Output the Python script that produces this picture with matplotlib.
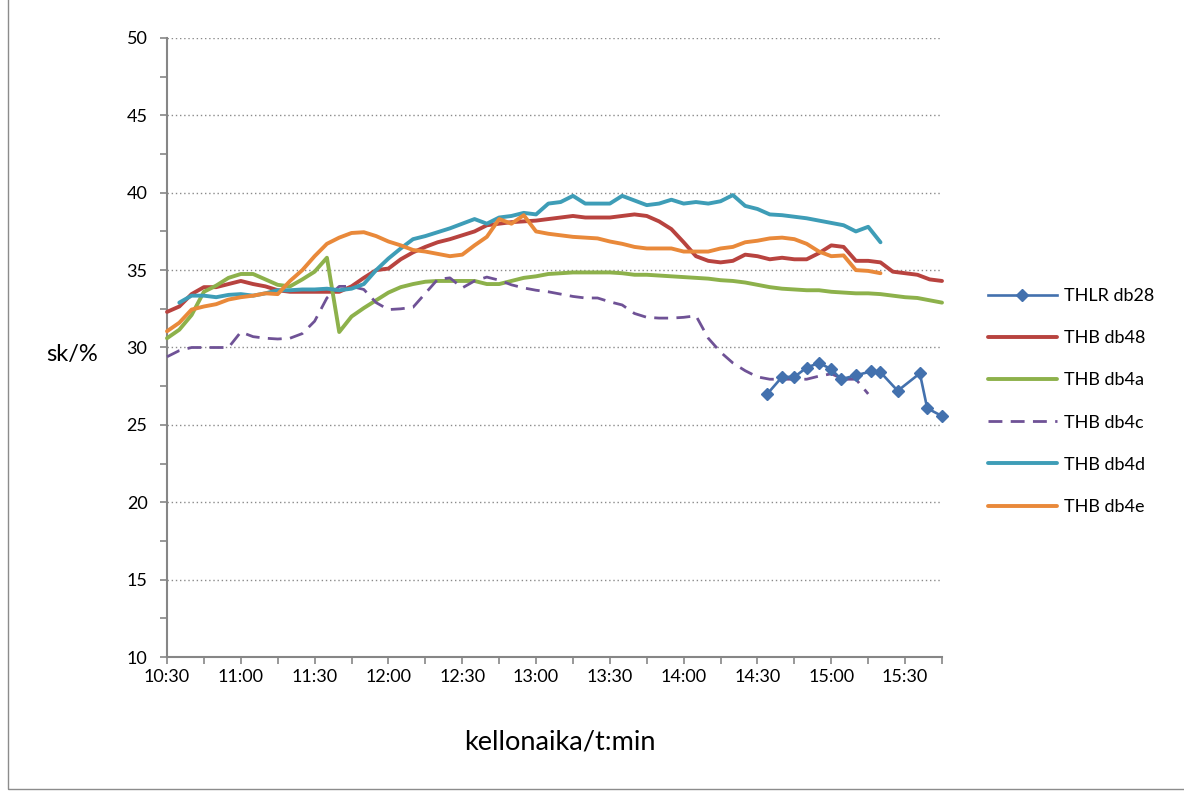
import numpy as np
import matplotlib
matplotlib.use("Agg")
import matplotlib.pyplot as plt
from matplotlib.patches import Rectangle

plt.rcParams['font.family'] = ['Lato', 'DejaVu Sans']

# Sampling clock of the THB loggers: minutes after 10:30, every 5 min
thb_minutes = np.arange(0, 320, 5)

nan = np.nan
db48 = [32.3, 32.65, 33.45, 33.9, 33.9, 34.1, 34.3, 34.1, 33.95, 33.7,
        33.6, 33.6, 33.6, 33.6, 33.6, 33.95, 34.5, 35.0, 35.1, 35.7,
        36.15, 36.5, 36.8, 37.0, 37.25, 37.5, 37.9, 38.0, 38.1, 38.15,
        38.2, 38.3, 38.4, 38.5, 38.4, 38.4, 38.4, 38.5, 38.6, 38.5,
        38.15, 37.65, 36.8, 35.9, 35.6, 35.5, 35.6, 36.0, 35.9, 35.7,
        35.8, 35.7, 35.7, 36.1, 36.6, 36.5, 35.6, 35.6, 35.5, 34.9,
        34.8, 34.7, 34.4, 34.3]
db4a = [30.6, 31.15, 32.1, 33.6, 34.0, 34.5, 34.75, 34.75, 34.4, 34.05,
        33.95, 34.4, 34.9, 35.8, 31.0, 32.0, 32.55, 33.05, 33.55, 33.9,
        34.1, 34.25, 34.3, 34.3, 34.3, 34.3, 34.1, 34.1, 34.3, 34.5,
        34.6, 34.75, 34.8, 34.85, 34.85, 34.85, 34.85, 34.8, 34.7, 34.7,
        34.65, 34.6, 34.55, 34.5, 34.45, 34.35, 34.3, 34.2, 34.05, 33.9,
        33.8, 33.75, 33.7, 33.7, 33.6, 33.55, 33.5, 33.5, 33.45, 33.35,
        33.25, 33.2, 33.05, 32.9]
db4c = [29.4, 29.8, 30.0, 30.0, 30.0, 30.0, 31.0, 30.7, 30.6, 30.55,
        30.6, 30.9, 31.7, 33.2, 33.95, 33.95, 33.75, 32.9, 32.45, 32.5,
        32.6, 33.5, 34.4, 34.5, 33.85, 34.3, 34.55, 34.35, 34.05, 33.85,
        33.7, 33.6, 33.45, 33.3, 33.2, 33.2, 32.95, 32.75, 32.2, 31.95,
        31.9, 31.9, 31.95, 32.05, 30.6, 29.7, 29.0, 28.5, 28.1, 27.95,
        27.95, 27.95, 27.95, 28.15, 28.3, 27.95, 27.95, 27.0, nan, nan,
        nan, nan, nan, nan]
db4d = [nan, 32.9, 33.35, 33.35, 33.25, 33.4, 33.45, 33.35, 33.5, 33.7,
        33.7, 33.75, 33.75, 33.8, 33.7, 33.8, 34.1, 35.0, 35.75, 36.4,
        37.0, 37.2, 37.45, 37.7, 38.0, 38.3, 38.0, 38.4, 38.5, 38.7,
        38.6, 39.3, 39.4, 39.8, 39.3, 39.3, 39.3, 39.8, 39.5, 39.2,
        39.3, 39.55, 39.3, 39.4, 39.3, 39.45, 39.85, 39.15, 38.95, 38.6,
        38.55, 38.45, 38.35, 38.2, 38.05, 37.9, 37.5, 37.8, 36.8, nan,
        nan, nan, nan, nan]
db4e = [31.05, 31.6, 32.45, 32.65, 32.8, 33.1, 33.25, 33.35, 33.5, 33.45,
        34.3, 35.0, 35.9, 36.7, 37.1, 37.4, 37.45, 37.2, 36.85, 36.6,
        36.3, 36.2, 36.05, 35.9, 36.0, 36.6, 37.15, 38.3, 38.0, 38.55,
        37.5, 37.35, 37.25, 37.15, 37.1, 37.05, 36.85, 36.7, 36.5, 36.4,
        36.4, 36.4, 36.2, 36.2, 36.2, 36.4, 36.5, 36.8, 36.9, 37.05,
        37.1, 37.0, 36.7, 36.2, 35.9, 35.95, 35.0, 34.95, 34.8, nan,
        nan, nan, nan, nan]

# THLR db28 readings with their own clock times
db28_times = ["14:34", "14:40", "14:45", "14:50", "14:55", "15:00", "15:04",
              "15:10", "15:16", "15:20", "15:27", "15:36", "15:39", "15:45"]
db28 = [27.0, 28.1, 28.1, 28.7, 29.0, 28.6, 27.95, 28.2, 28.45, 28.4,
        27.2, 28.33, 26.07, 25.57]

x_tick_labels = ["10:30", "11:00", "11:30", "12:00", "12:30", "13:00",
                 "13:30", "14:00", "14:30", "15:00", "15:30"]


def to_minutes(hhmm):
    h, m = hhmm.split(":")
    return (int(h) - 10) * 60 + int(m) - 30


db28_minutes = [to_minutes(t) for t in db28_times]

W, H = 1184, 791
fig = plt.figure(figsize=(W / 100, H / 100), dpi=100)
fig.patch.set_facecolor("white")

# chart-area border
fig.patches.append(Rectangle((8 / W, 2 / H), 1.2, 1.2, transform=fig.transFigure,
                             fill=False, edgecolor="#8c8c8c", linewidth=1.0))

L, R, T, B = 167, 942, 38, 657
ax = fig.add_axes([L / W, 1 - B / H, (R - L) / W, (B - T) / H])
ax.set_xlim(0, 315)
ax.set_ylim(10, 50)

axis_grey = "#868686"
for s in ("top", "right"):
    ax.spines[s].set_visible(False)
for s in ("left", "bottom"):
    ax.spines[s].set_color(axis_grey)
    ax.spines[s].set_linewidth(1.5)

ax.set_yticks(np.arange(10, 51, 5))
ax.set_yticks(np.arange(12.5, 50, 5), minor=True)
ax.set_xticks(np.arange(0, 316, 15))
ax.set_xticklabels([x_tick_labels[i // 2] if i % 2 == 0 else ""
                    for i in range(len(np.arange(0, 316, 15)))])
ax.tick_params(axis="both", which="both", direction="out", color=axis_grey,
               width=1.2, length=5, labelsize=13, labelcolor="#000000")
ax.tick_params(axis="y", which="major", pad=9)
ax.tick_params(axis="x", which="major", pad=4)

for yv in np.arange(15, 51, 5):
    ax.axhline(yv, color="#8a8a8a", linewidth=1.0, linestyle=(0, (1, 2)),
               zorder=1)

lw = 2.8
ax.plot(db28_minutes, db28, color="#4371AE", lw=1.9, marker="D", ms=6.5,
        clip_on=False, zorder=5, label="THLR db28")
ax.plot(thb_minutes, db48, color="#B8433F", lw=lw, clip_on=False, zorder=4,
        label="THB db48", solid_joinstyle="round", solid_capstyle="round")
ax.plot(thb_minutes, db4a, color="#8DB14B", lw=lw, clip_on=False, zorder=4,
        label="THB db4a", solid_joinstyle="round", solid_capstyle="round")
ax.plot(thb_minutes, db4c, color="#6F5296", lw=2.0, clip_on=False, zorder=4,
        dashes=(5.0, 3.0), label="THB db4c")
ax.plot(thb_minutes, db4d, color="#3E9DB7", lw=lw, clip_on=False, zorder=4,
        label="THB db4d", solid_joinstyle="round", solid_capstyle="round")
ax.plot(thb_minutes, db4e, color="#E9893A", lw=lw, clip_on=False, zorder=4,
        label="THB db4e", solid_joinstyle="round", solid_capstyle="round")

handles, labels = ax.get_legend_handles_labels()
fig.legend(handles, labels, loc="center left",
           bbox_to_anchor=(988 / W, 1 - 401.5 / H), frameon=False,
           fontsize=13, handlelength=3.8, handletextpad=0.4,
           labelspacing=1.45, borderpad=0, borderaxespad=0, numpoints=1)

fig.text(72 / W, 1 - 355 / H, "sk/%", ha="center", va="center", fontsize=17)
fig.text(560 / W, 1 - 742 / H, "kellonaika/t:min", ha="center", va="center",
         fontsize=19.5)

fig.savefig("out.png", dpi=100, facecolor="white")
